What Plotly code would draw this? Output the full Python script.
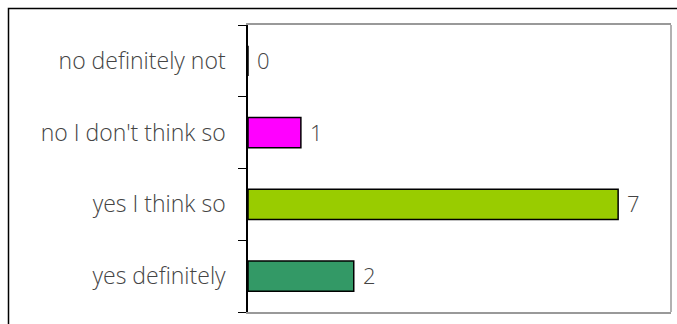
import plotly.graph_objects as go

# Survey responses
categories = ["no definitely not", "no I don't think so", "yes I think so", "yes definitely"]
counts = [0, 1, 7, 2]
bar_colors = ["#FF00FF", "#FF00FF", "#99CC00", "#339966"]

W, H = 677, 324
L, R, T, B = 248, 671, 25, 312  # plot area in pixels
pw, ph = R - L, B - T

def px_x(x):
    return (x - L) / pw

def px_y(y):
    return (B - y) / ph

font_family = "Open Sans"
text_color = "#444444"
font_size = 23

fig = go.Figure()
fig.add_trace(go.Bar(
    y=categories,
    x=counts,
    orientation="h",
    width=0.42,
    marker=dict(color=bar_colors, line=dict(color="#000000", width=1.5)),
    showlegend=False,
    hoverinfo="x+y",
))

# value labels to the right of each bar
annotations = [
    dict(x=v, y=c, xref="x", yref="y", text=str(v), showarrow=False,
         xanchor="left", yanchor="middle", xshift=7, yshift=1,
         font=dict(family=font_family, size=font_size - 1, color=text_color, weight=300))
    for c, v in zip(categories, counts)
]

fig.update_layout(
    width=W, height=H,
    margin=dict(l=L, r=W - R, t=T, b=H - B, pad=0),
    paper_bgcolor="white",
    plot_bgcolor="white",
    bargap=0.58,
    font=dict(family=font_family, size=font_size, color=text_color, weight=300),
    annotations=annotations,
    xaxis=dict(
        range=[0, 8],
        showticklabels=False,
        ticks="",
        showgrid=False,
        zeroline=False,
        showline=True,
        linecolor="#999999",
        linewidth=1.5,
        mirror=True,
        fixedrange=True,
    ),
    yaxis=dict(
        type="category",
        categoryorder="array",
        categoryarray=categories[::-1],
        tickson="boundaries",
        ticks="outside",
        ticklen=8,
        tickwidth=1.2,
        tickcolor="#000000",
        showline=True,
        linecolor="#000000",
        linewidth=1.5,
        showgrid=False,
        zeroline=False,
        ticklabelstandoff=16,
        tickfont=dict(family=font_family, size=font_size, color=text_color, weight=300),
        fixedrange=True,
    ),
    shapes=[
        # right edge of the plot frame
        dict(type="line", xref="paper", yref="paper", x0=1, x1=1, y0=0, y1=1,
             line=dict(color="#999999", width=1.5), layer="above"),
        # outer chart border
        dict(type="rect", xref="paper", yref="paper",
             x0=px_x(8.5), x1=px_x(700), y0=px_y(340), y1=px_y(8.5),
             line=dict(color="#000000", width=1.5), fillcolor="rgba(0,0,0,0)"),
    ],
)

fig.write_html("out.html", config={"displayModeBar": False})
